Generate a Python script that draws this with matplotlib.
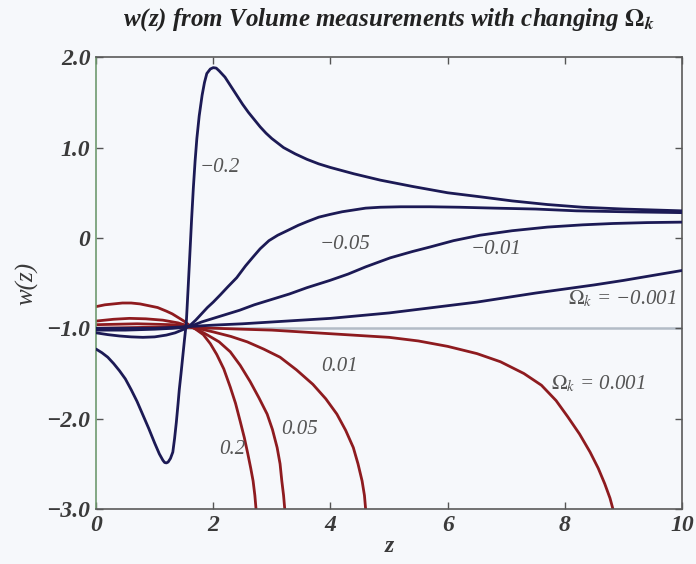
import matplotlib
matplotlib.use("Agg")
import matplotlib.pyplot as plt

plt.rcParams['font.family'] = ['Liberation Serif', 'DejaVu Serif']
plt.rcParams['mathtext.fontset'] = 'stix'

# ---- data ----
z_neg_02 = [0, 0.1, 0.2, 0.3, 0.4, 0.5, 0.6, 0.7, 0.8, 0.9, 1.0, 1.08, 1.14, 1.17, 1.20, 1.23,
            1.27, 1.31, 1.34, 1.37, 1.40, 1.42, 1.45, 1.48, 1.51, 1.54, 1.57, 1.60, 1.63, 1.66,
            1.69, 1.72, 1.76, 1.81, 1.85, 1.89, 1.95, 2.0, 2.05, 2.1, 2.2, 2.3, 2.4, 2.5, 2.6,
            2.7, 2.8, 2.9, 3.0, 3.2, 3.4, 3.6, 3.8, 4.0, 4.4, 4.85, 5.4, 6.0, 6.5, 7.1, 7.7,
            8.3, 9.0, 10.0]
w_neg_02 = [-1.23, -1.27, -1.32, -1.39, -1.47, -1.56, -1.68, -1.81, -1.96, -2.11, -2.27, -2.39,
            -2.46, -2.485, -2.49, -2.48, -2.44, -2.37, -2.22, -2.04, -1.83, -1.68, -1.50, -1.31,
            -1.12, -0.94, -0.57, -0.19, 0.20, 0.55, 0.85, 1.10, 1.35, 1.58, 1.72, 1.82, 1.87,
            1.885, 1.88, 1.85, 1.78, 1.68, 1.58, 1.48, 1.39, 1.31, 1.23, 1.16, 1.10, 1.00, 0.93,
            0.87, 0.82, 0.78, 0.71, 0.64, 0.57, 0.50, 0.46, 0.41, 0.37, 0.34, 0.32, 0.30]

z_neg_005 = [0, 0.2, 0.4, 0.6, 0.8, 1.0, 1.2, 1.35, 1.5, 1.6, 1.7, 1.8, 1.9, 2.0, 2.12, 2.25,
             2.4, 2.55, 2.68, 2.8, 2.95, 3.1, 3.26, 3.45, 3.6, 3.8, 3.99, 4.2, 4.4, 4.6, 4.85,
             5.2, 5.7, 6.2, 6.8, 7.5, 8.2, 9.0, 10.0]
w_neg_005 = [-1.05, -1.07, -1.085, -1.095, -1.10, -1.095, -1.075, -1.05, -1.01, -0.97, -0.91,
             -0.84, -0.77, -0.71, -0.63, -0.54, -0.44, -0.31, -0.21, -0.12, -0.03, 0.03, 0.08,
             0.14, 0.18, 0.23, 0.26, 0.29, 0.31, 0.33, 0.34, 0.345, 0.345, 0.34, 0.33, 0.32,
             0.30, 0.29, 0.28]

z_neg_001 = [0, 0.5, 1.0, 1.3, 1.6, 1.8, 2.0, 2.2, 2.45, 2.7, 3.0, 3.3, 3.6, 3.99, 4.3, 4.6,
             5.02, 5.4, 5.7, 6.1, 6.55, 7.1, 7.7, 8.3, 8.82, 9.4, 10.0]
w_neg_001 = [-1.02, -1.02, -1.01, -1.0, -0.98, -0.93, -0.89, -0.85, -0.80, -0.74, -0.68, -0.62,
             -0.55, -0.47, -0.40, -0.32, -0.22, -0.15, -0.10, -0.03, 0.03, 0.08, 0.12, 0.145,
             0.16, 0.17, 0.175]

z_neg_0001 = [0, 0.5, 1.0, 1.6, 2.0, 2.5, 3.0, 3.5, 4.0, 4.5, 5.0, 5.5, 6.0, 6.5, 7.0, 7.5,
              8.0, 8.5, 9.0, 9.5, 10.0]
w_neg_0001 = [-1.0, -1.0, -1.0, -0.98, -0.965, -0.95, -0.93, -0.91, -0.89, -0.86, -0.83, -0.79,
              -0.75, -0.71, -0.66, -0.61, -0.565, -0.52, -0.47, -0.415, -0.36]

z_pos_02 = [0, 0.15, 0.3, 0.45, 0.6, 0.75, 0.9, 1.05, 1.2, 1.3, 1.4, 1.5, 1.6, 1.7, 1.83, 1.95,
            2.06, 2.18, 2.29, 2.38, 2.46, 2.53, 2.59, 2.64, 2.68, 2.71, 2.73]
w_pos_02 = [-0.76, -0.74, -0.73, -0.72, -0.72, -0.73, -0.75, -0.77, -0.81, -0.84, -0.88, -0.92,
            -0.97, -1.01, -1.07, -1.17, -1.29, -1.45, -1.65, -1.83, -2.03, -2.21, -2.39, -2.55,
            -2.69, -2.85, -3.0]

z_pos_005 = [0, 0.3, 0.57, 0.85, 1.14, 1.4, 1.6, 1.75, 1.89, 2.1, 2.29, 2.46, 2.63, 2.78, 2.92,
             3.01, 3.09, 3.14, 3.17, 3.20, 3.22]
w_pos_005 = [-0.92, -0.90, -0.89, -0.895, -0.91, -0.94, -0.98, -1.02, -1.07, -1.15, -1.26,
             -1.41, -1.59, -1.77, -1.95, -2.12, -2.32, -2.50, -2.69, -2.85, -3.0]

z_pos_001 = [0, 0.7, 1.3, 1.6, 1.8, 2.0, 2.3, 2.58, 2.86, 3.14, 3.42, 3.70, 3.92, 4.11, 4.26,
             4.39, 4.47, 4.54, 4.58, 4.6]
w_pos_001 = [-0.96, -0.95, -0.96, -0.98, -1.01, -1.04, -1.09, -1.15, -1.23, -1.32, -1.46, -1.62,
             -1.78, -1.95, -2.13, -2.32, -2.50, -2.69, -2.85, -3.0]

z_pos_0001 = [0, 0.8, 1.6, 2.5, 3.0, 3.5, 4.0, 4.5, 5.0, 5.5, 6.0, 6.5, 6.9, 7.3, 7.6, 7.85,
              8.05, 8.25, 8.43, 8.57, 8.68, 8.77, 8.82]
w_pos_0001 = [-1.0, -0.99, -0.99, -1.01, -1.02, -1.04, -1.06, -1.08, -1.10, -1.14, -1.20, -1.28,
              -1.37, -1.50, -1.63, -1.80, -1.98, -2.17, -2.37, -2.55, -2.72, -2.88, -3.0]

x_ticks = [0, 2, 4, 6, 8, 10]
x_ticklabels = ['0', '2', '4', '6', '8', '10']
y_ticks = [2.0, 1.0, 0.0, -1.0, -2.0, -3.0]
y_ticklabels = ['2.0', '1.0', '0', '\u22121.0', '\u22122.0', '\u22123.0']

curve_labels = ['\u22120.2', '\u22120.05', '\u22120.01', '$\\Omega_k$ = \u22120.001',
                '0.01', '0.05', '0.2', '$\\Omega_k$ = 0.001']
label_x = [2.12, 4.25, 6.83, 8.98, 4.16, 3.48, 2.33, 8.57]
label_y = [0.78, -0.07, -0.13, -0.68, -1.42, -2.12, -2.34, -1.62]

navy = '#1c1a55'
red = '#8e1b1f'

fig = plt.figure(figsize=(6.96, 5.64), dpi=100)
fig.patch.set_facecolor('#f6f8fb')
ax = fig.add_axes([0.138, 0.0975, 0.842, 0.801])
ax.set_facecolor('#f6f8fb')

ax.axhline(-1.0, color='#b3bcc6', lw=1.8, zorder=1)

for zz, ww in [(z_neg_02, w_neg_02), (z_neg_005, w_neg_005), (z_neg_001, w_neg_001),
               (z_neg_0001, w_neg_0001)]:
    ax.plot(zz, ww, color=navy, lw=2.0, zorder=3, solid_capstyle='round', solid_joinstyle='round')
for zz, ww in [(z_pos_02, w_pos_02), (z_pos_005, w_pos_005), (z_pos_001, w_pos_001),
               (z_pos_0001, w_pos_0001)]:
    ax.plot(zz, ww, color=red, lw=2.0, zorder=2, solid_capstyle='round', solid_joinstyle='round')

for t, lx, ly in zip(curve_labels, label_x, label_y):
    ax.text(lx, ly, t, fontsize=15, style='italic', color='#555555', ha='center', va='center', zorder=4)

ax.set_xlim(0, 10)
ax.set_ylim(-3, 2)
ax.set_xticks(x_ticks)
ax.set_xticklabels(x_ticklabels)
ax.set_yticks(y_ticks)
ax.set_yticklabels(y_ticklabels)
ax.tick_params(direction='in', length=5, width=1, color='#555555', top=True, right=True,
               labelsize=17, labelcolor='#3a3a3a', pad=4)
for lab in ax.get_xticklabels() + ax.get_yticklabels():
    lab.set_fontstyle('italic')
    lab.set_fontweight('bold')
for s in ax.spines.values():
    s.set_color('#5a5a5a')
    s.set_linewidth(1.2)
ax.spines['left'].set_color('#6f9a6f')

ax.set_xlabel('z', fontsize=17, style='italic', fontweight='bold', color='#3a3a3a', labelpad=0)
ax.set_ylabel('w(z)', fontsize=18, style='italic', color='#3a3a3a', labelpad=6)

fig.text(0.558, 0.965, r'w(z) from Volume measurements with changing $\mathbf{\Omega}_{\mathbfit{k}}$',
         fontsize=18, style='italic', fontweight='bold', color='#222222', ha='center', va='center')

fig.savefig('out.png', dpi=100, facecolor=fig.get_facecolor())
